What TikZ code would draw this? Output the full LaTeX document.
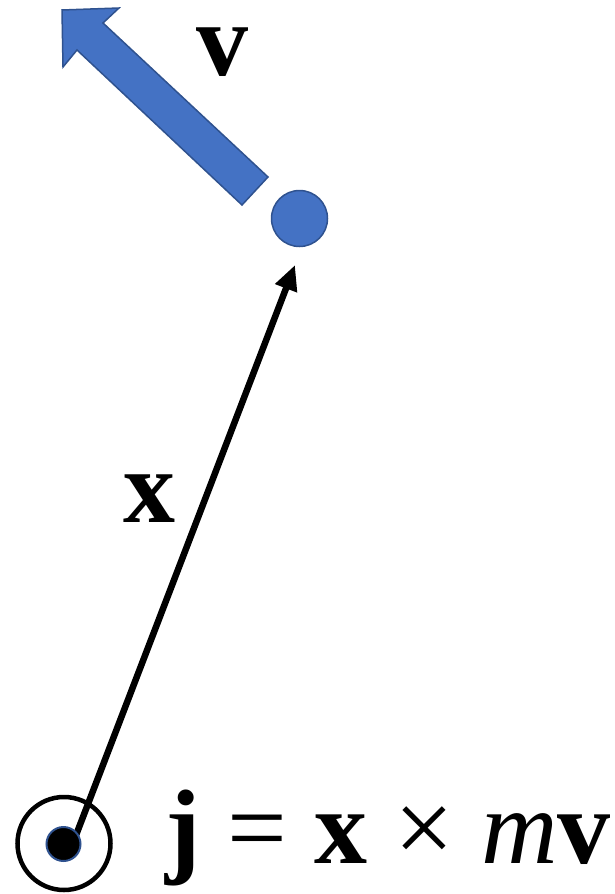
\documentclass[tikz,border=0pt]{standalone}
\usepackage{fontspec}
\setmainfont{Liberation Serif}
\usetikzlibrary{arrows.meta}
\definecolor{blueF}{HTML}{4472C4}
\definecolor{blueD}{HTML}{2F528F}
\begin{document}
\begin{tikzpicture}[x=1pt,y=-1pt,
  bigtxt/.style={inner sep=0pt, font=\fontsize{104}{104}\selectfont},
  eqtxt/.style={inner sep=0pt, font=\fontsize{106}{106}\selectfont},
  posvec/.style={line width=6.5pt, -{Triangle[length=25pt,width=22pt]}}]
\useasboundingbox (0,0) rectangle (615,894);
% block arrow for v
\draw[fill=blueF, draw=blueD, line width=1.5pt]
  (62,10) -- (119,8) -- (103,23) -- (268,177) -- (242,205) -- (77,50) -- (63,67) -- cycle;
\node[bigtxt, anchor=base] (vlab) at (222,75) {\textbf{v}};
% particle
\node[circle, fill=blueF, draw=blueD, line width=1.5pt, minimum size=56pt, inner sep=0pt] (p) at (299.5,218.5) {};
% origin
\node[circle, draw=black, line width=4.5pt, minimum size=93pt, inner sep=0pt] (o) at (64,843.5) {};
\coordinate (oc) at (73,843);
\coordinate (tip) at (295,265);
\draw[posvec] (oc) -- (tip);
\node[circle, fill=black, draw=blueD, line width=2pt, minimum size=34pt, inner sep=0pt] (dot) at (63.5,844) {};
\node[bigtxt, anchor=base] (xlab) at (149,522) {\textbf{x}};
\node[eqtxt, anchor=base west] (eq) at (165,863)
  {\textbf{j}\hspace{27pt}=\hspace{27pt}\textbf{x}\hspace{27pt}×\hspace{27pt}\textit{m}\textbf{v}};
\end{tikzpicture}
\end{document}
